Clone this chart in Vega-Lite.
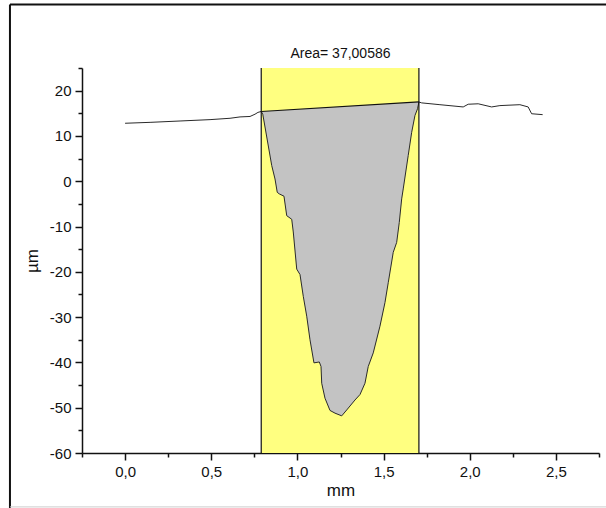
{
  "$schema": "https://vega.github.io/schema/vega-lite/v6.json",
  "width": 517,
  "height": 385,
  "autosize": {"type": "none"},
  "padding": {"left": 82, "top": 68, "right": 7, "bottom": 55},
  "background": "white",
  "config": {
    "view": {"stroke": null},
    "font": "Liberation Sans",
    "axis": {
      "grid": false,
      "domainColor": "#111",
      "domainWidth": 1.5,
      "tickColor": "#111",
      "tickWidth": 1.5,
      "tickSize": 7,
      "labelFont": "Liberation Sans",
      "labelFontSize": 15,
      "labelColor": "#111",
      "titleFont": "Liberation Sans",
      "titleFontSize": 17,
      "titleFontWeight": "normal",
      "titleColor": "#111"
    }
  },
  "datasets": {
    "profile": [
      {"x": 0.0, "y": 12.8},
      {"x": 0.145, "y": 13.0},
      {"x": 0.319, "y": 13.3},
      {"x": 0.493, "y": 13.6},
      {"x": 0.609, "y": 13.9},
      {"x": 0.667, "y": 14.2},
      {"x": 0.725, "y": 14.3},
      {"x": 0.754, "y": 14.8},
      {"x": 0.771, "y": 15.2},
      {"x": 0.79, "y": 15.4, "chord": 15.4},
      {"x": 0.799, "y": 14.8, "chord": 15.42},
      {"x": 0.851, "y": 3.45, "chord": 15.54},
      {"x": 0.87, "y": 0.5, "chord": 15.58},
      {"x": 0.883, "y": -2.45, "chord": 15.61},
      {"x": 0.895, "y": -2.8, "chord": 15.64},
      {"x": 0.922, "y": -3.3, "chord": 15.7},
      {"x": 0.938, "y": -7.6, "chord": 15.74},
      {"x": 0.967, "y": -8.4, "chord": 15.81},
      {"x": 0.976, "y": -11.2, "chord": 15.83},
      {"x": 0.996, "y": -19.4, "chord": 15.87},
      {"x": 1.015, "y": -20.6, "chord": 15.92},
      {"x": 1.034, "y": -25.4, "chord": 15.96},
      {"x": 1.054, "y": -29.8, "chord": 16.01},
      {"x": 1.073, "y": -35.0, "chord": 16.05},
      {"x": 1.096, "y": -40.1, "chord": 16.1},
      {"x": 1.127, "y": -39.9, "chord": 16.17},
      {"x": 1.137, "y": -40.9, "chord": 16.2},
      {"x": 1.141, "y": -44.6, "chord": 16.21},
      {"x": 1.16, "y": -47.9, "chord": 16.25},
      {"x": 1.189, "y": -50.6, "chord": 16.32},
      {"x": 1.218, "y": -51.2, "chord": 16.38},
      {"x": 1.257, "y": -51.8, "chord": 16.47},
      {"x": 1.286, "y": -50.5, "chord": 16.54},
      {"x": 1.334, "y": -48.3, "chord": 16.65},
      {"x": 1.363, "y": -47.1, "chord": 16.72},
      {"x": 1.392, "y": -44.6, "chord": 16.78},
      {"x": 1.411, "y": -40.9, "chord": 16.83},
      {"x": 1.44, "y": -37.9, "chord": 16.89},
      {"x": 1.479, "y": -32.0, "chord": 16.98},
      {"x": 1.508, "y": -26.8, "chord": 17.05},
      {"x": 1.527, "y": -22.4, "chord": 17.09},
      {"x": 1.556, "y": -15.7, "chord": 17.16},
      {"x": 1.576, "y": -13.5, "chord": 17.2},
      {"x": 1.591, "y": -9.1, "chord": 17.24},
      {"x": 1.605, "y": -3.9, "chord": 17.27},
      {"x": 1.614, "y": -1.7, "chord": 17.29},
      {"x": 1.643, "y": 5.7, "chord": 17.36},
      {"x": 1.663, "y": 10.8, "chord": 17.4},
      {"x": 1.682, "y": 14.5, "chord": 17.45},
      {"x": 1.697, "y": 16.0, "chord": 17.48},
      {"x": 1.705, "y": 17.5, "chord": 17.5},
      {"x": 1.721, "y": 17.3},
      {"x": 1.827, "y": 16.9},
      {"x": 1.962, "y": 16.4},
      {"x": 1.991, "y": 17.0},
      {"x": 2.049, "y": 17.1},
      {"x": 2.127, "y": 16.4},
      {"x": 2.175, "y": 16.7},
      {"x": 2.291, "y": 16.9},
      {"x": 2.339, "y": 16.4},
      {"x": 2.359, "y": 14.9},
      {"x": 2.423, "y": 14.7}
    ],
    "band": [{"x0": 0.79, "x1": 1.705}],
    "edges": [{"x": 0.79}, {"x": 1.705}],
    "chordline": [{"x": 0.79, "y": 15.4}, {"x": 1.705, "y": 17.5}],
    "frame": [{"x": -0.668, "x2": 2.8, "y": 39.0, "y2": -72.2, "ybottom": -71.9}],
    "label": [{"x": 1.25, "y": 28.0, "text": "Area= 37,00586"}]
  },
  "resolve": {"axis": {"x": "independent", "y": "independent"}},
  "layer": [
    {
      "data": {"name": "band"},
      "mark": {"type": "rect", "fill": "#ffff80"},
      "encoding": {
        "x": {"field": "x0", "type": "quantitative", "scale": {"domain": [-0.25, 2.75], "nice": false, "zero": false},
              "axis": {"orient": "bottom", "title": "mm", "values": [0, 0.5, 1, 1.5, 2, 2.5], "labelExpr": "replace(format(datum.value, '.1f'), '.', ',')", "labelPadding": 4, "titlePadding": 3}},
        "x2": {"field": "x1"},
        "y": {"datum": -60, "type": "quantitative", "scale": {"domain": [-60, 25], "nice": false, "zero": false},
              "axis": {"orient": "left", "title": "µm", "values": [-60, -50, -40, -30, -20, -10, 0, 10, 20], "labelExpr": "datum.value + ''", "labelPadding": 4, "titlePadding": 8}},
        "y2": {"datum": 25}
      }
    },
    {
      "data": {"name": "profile"},
      "transform": [{"filter": "isValid(datum.chord)"}],
      "mark": {"type": "area", "fill": "#c3c3c3", "stroke": null},
      "encoding": {
        "x": {"field": "x", "type": "quantitative", "axis": null},
        "y": {"field": "y", "type": "quantitative", "axis": null},
        "y2": {"field": "chord"}
      }
    },
    {
      "data": {"name": "profile"},
      "mark": {"type": "line", "stroke": "#2a2a2a", "strokeWidth": 1},
      "encoding": {
        "x": {"field": "x", "type": "quantitative", "axis": null},
        "y": {"field": "y", "type": "quantitative", "axis": null}
      }
    },
    {
      "data": {"name": "chordline"},
      "mark": {"type": "line", "stroke": "#111", "strokeWidth": 1.2},
      "encoding": {
        "x": {"field": "x", "type": "quantitative", "axis": null},
        "y": {"field": "y", "type": "quantitative", "axis": null}
      }
    },
    {
      "data": {"name": "edges"},
      "mark": {"type": "rule", "stroke": "#111", "strokeWidth": 1.2},
      "encoding": {
        "x": {"field": "x", "type": "quantitative", "axis": null}
      }
    },
    {
      "data": {"name": "label"},
      "mark": {"type": "text", "font": "Liberation Sans", "fontSize": 14, "color": "#111", "baseline": "middle", "align": "center"},
      "encoding": {
        "x": {"field": "x", "type": "quantitative", "axis": null},
        "y": {"field": "y", "type": "quantitative", "axis": null},
        "text": {"field": "text"}
      }
    },
    {
      "data": {"values": [{"x": 0, "y": 0}]},
      "mark": {"type": "point", "opacity": 0},
      "encoding": {
        "x": {"field": "x", "type": "quantitative",
              "axis": {"orient": "bottom", "values": [-0.25, 0.25, 0.75, 1.25, 1.75, 2.25, 2.75], "labels": false, "domain": false, "tickSize": 4, "title": null}},
        "y": {"field": "y", "type": "quantitative",
              "axis": {"orient": "left", "values": [-55, -45, -35, -25, -15, -5, 5, 15, 25], "labels": false, "domain": false, "tickSize": 4, "title": null}}
      }
    },
    {
      "data": {"name": "frame"},
      "mark": {"type": "rule", "stroke": "#111", "strokeWidth": 2},
      "encoding": {
        "x": {"field": "x", "type": "quantitative", "axis": null},
        "x2": {"field": "x2"},
        "y": {"field": "y", "type": "quantitative", "axis": null}
      }
    },
    {
      "data": {"name": "frame"},
      "mark": {"type": "rule", "stroke": "#111", "strokeWidth": 2},
      "encoding": {
        "x": {"field": "x", "type": "quantitative", "axis": null},
        "y": {"field": "y", "type": "quantitative", "axis": null},
        "y2": {"field": "y2"}
      }
    },
    {
      "data": {"name": "frame"},
      "mark": {"type": "rule", "stroke": "#cccccc", "strokeWidth": 1},
      "encoding": {
        "x": {"field": "x", "type": "quantitative", "axis": null},
        "x2": {"field": "x2"},
        "y": {"field": "ybottom", "type": "quantitative", "axis": null}
      }
    }
  ]
}
